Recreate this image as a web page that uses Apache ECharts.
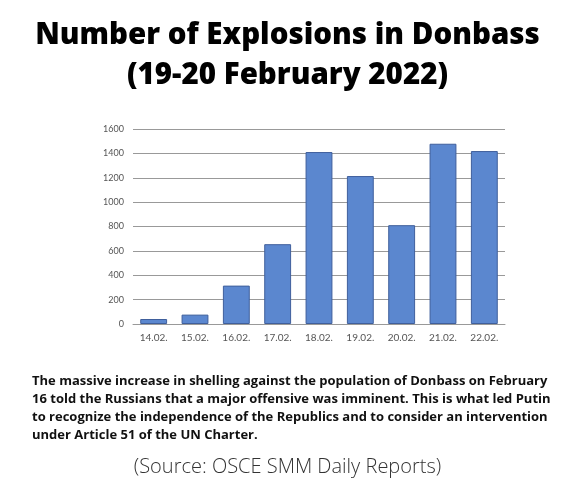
<!DOCTYPE html>
<html>
<head>
<meta charset="utf-8">
<script src="https://cdn.jsdelivr.net/npm/echarts@6/dist/echarts.min.js"></script>
<style>
  html, body { margin: 0; padding: 0; background: #fff; }
  #main { width: 575px; height: 496px; }
</style>
</head>
<body>
<div id="main"></div>
<script>
const days = ['14.02.', '15.02.', '16.02.', '17.02.', '18.02.', '19.02.', '20.02.', '21.02.', '22.02.'];
const explosions = [41, 77, 315, 655, 1411, 1214, 811, 1479, 1419];
const titleLines = ['Number of Explosions in Donbass', '(19-20 February 2022)'];
const captionLines = [
  'The massive increase in shelling against the population of Donbass on February',
  '16 told the Russians that a major offensive was imminent. This is what led Putin',
  'to recognize the independence of the Republics and to consider an intervention',
  'under Article 51 of the UN Charter.'
];
const sourceText = '(Source: OSCE SMM Daily Reports)';

let option = {
  backgroundColor: '#fff',
  animation: false,
  title: [
    {
      text: titleLines.join('\n'),
      left: 'center',
      top: 11,
      textStyle: {
        fontFamily: 'Open Sans',
        fontWeight: 800,
        fontSize: 29.5,
        lineHeight: 40,
        color: '#000',
        align: 'center'
      }
    },
    {
      text: captionLines.join('\n'),
      left: 27,
      top: 367,
      textStyle: {
        fontFamily: 'Open Sans',
        fontWeight: 700,
        fontSize: 13,
        lineHeight: 18,
        color: '#111'
      }
    },
    {
      text: sourceText,
      left: 'center',
      top: 452,
      textStyle: {
        fontFamily: 'Open Sans',
        fontWeight: 300,
        fontSize: 20,
        color: '#333'
      }
    }
  ],
  grid: {
    left: 133,
    right: 70,
    top: 129,
    bottom: 172
  },
  xAxis: {
    type: 'category',
    data: days,
    axisLine: { lineStyle: { color: '#999' } },
    axisTick: { show: false },
    axisLabel: {
      fontFamily: 'Lato',
      fontSize: 10,
      color: '#555',
      margin: 9
    }
  },
  yAxis: {
    type: 'value',
    min: 0,
    max: 1600,
    interval: 200,
    axisLine: { show: false },
    axisTick: { show: false },
    axisLabel: {
      fontFamily: 'Lato',
      fontSize: 9,
      color: '#555',
      margin: 9,
      formatter: function(v) { return String(v); }
    },
    splitLine: { lineStyle: { color: '#999', width: 1 } }
  },
  series: [{
    type: 'bar',
    data: explosions,
    barWidth: '65%',
    itemStyle: {
      color: '#5b87cf',
      borderColor: '#3f5f9c',
      borderWidth: 1
    }
  }]
};

let myChart = echarts.init(document.getElementById('main'));
myChart.setOption(option);
</script>
</body>
</html>
